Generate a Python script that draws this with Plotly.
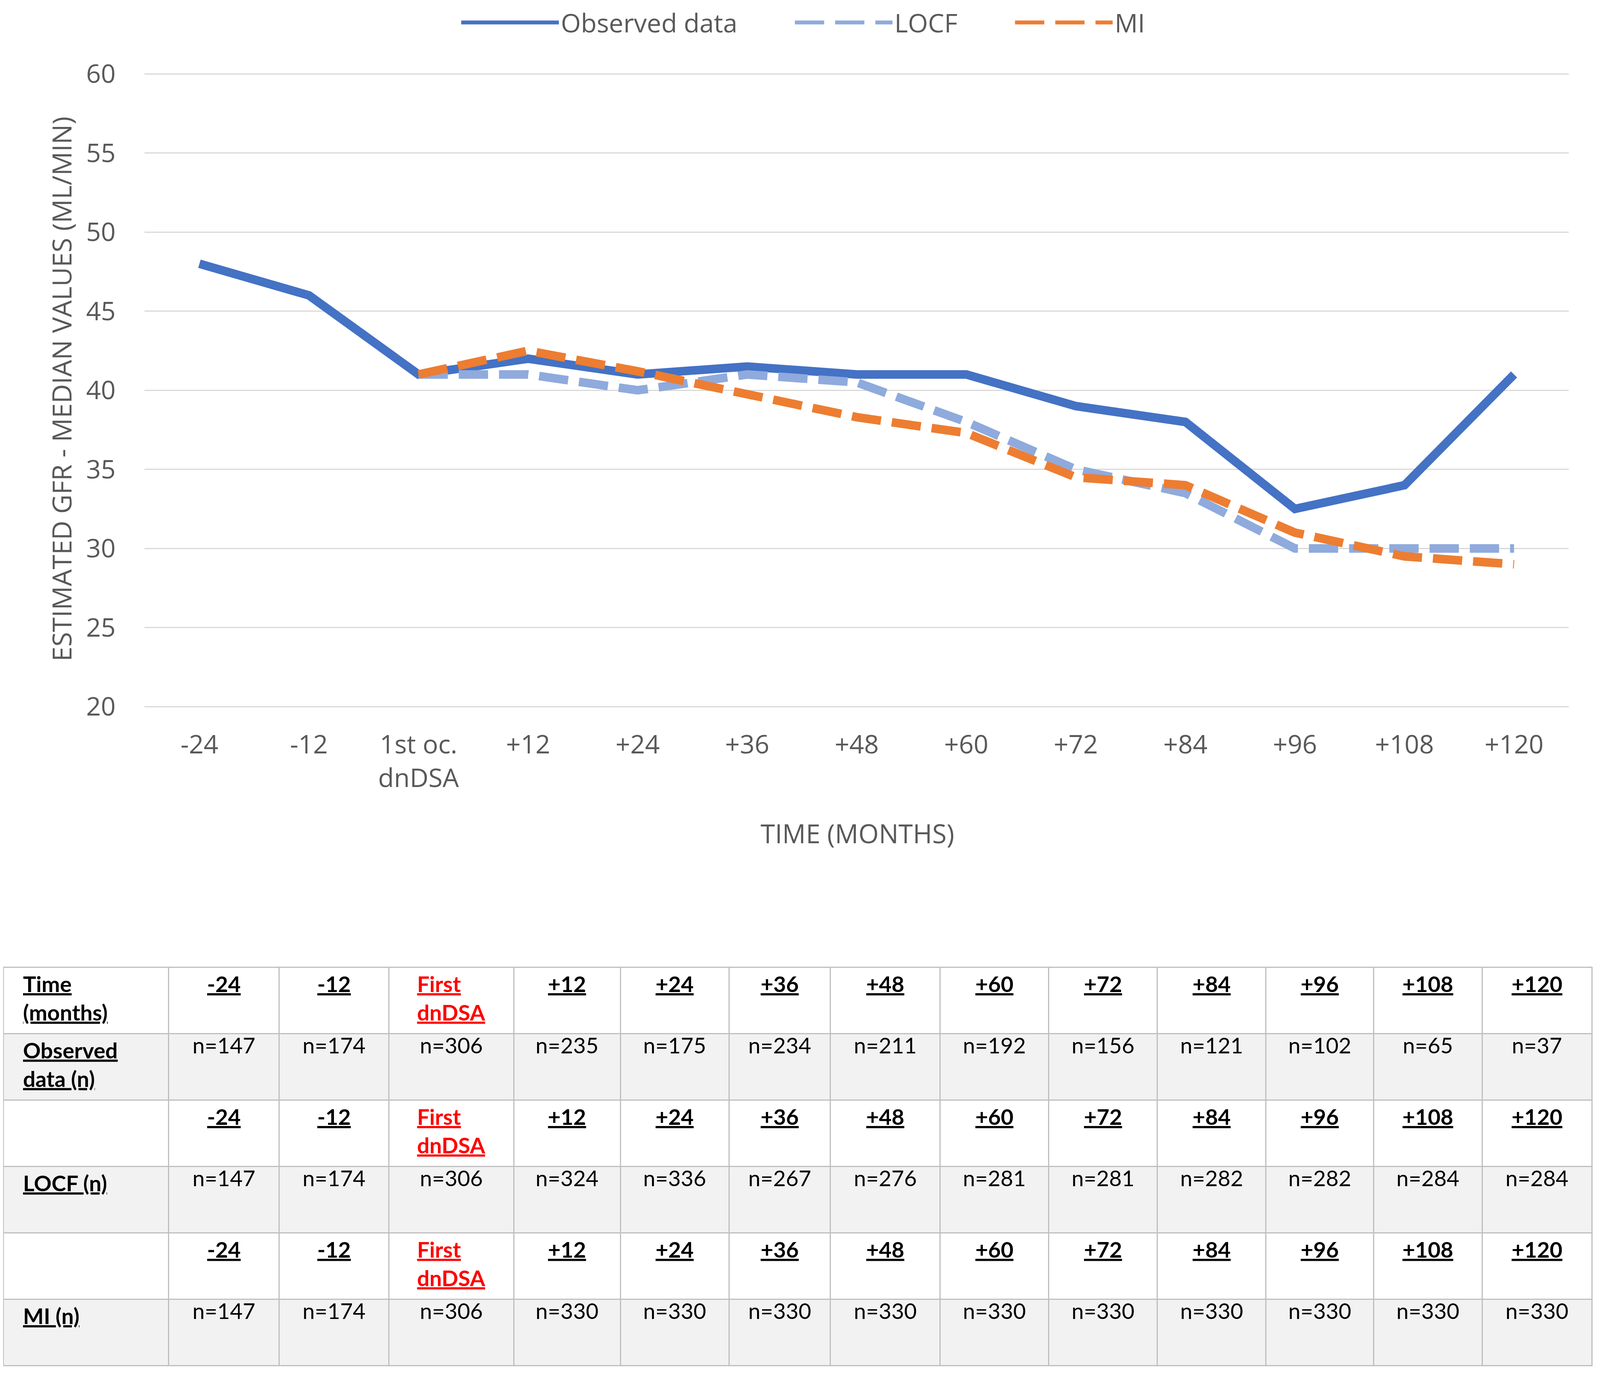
import plotly.graph_objects as go

# time points on the x axis
categories = ['-24', '-12', '1st oc.<br>dnDSA', '+12', '+24', '+36', '+48',
              '+60', '+72', '+84', '+96', '+108', '+120']

# median eGFR
observed = [48, 46, 41, 42, 41, 41.5, 41, 41, 39, 38, 32.5, 34, 41]
locf = [41, 41, 40, 41, 40.5, 38, 35, 33.5, 30, 30, 30]
mi = [41, 42.5, 41.2, 39.7, 38.3, 37.3, 34.5, 34, 31, 29.5, 29]

# table contents
table_times = ['-24', '-12', 'First dnDSA', '+12', '+24', '+36', '+48',
               '+60', '+72', '+84', '+96', '+108', '+120']
n_observed = [147, 174, 306, 235, 175, 234, 211, 192, 156, 121, 102, 65, 37]
n_locf = [147, 174, 306, 324, 336, 267, 276, 281, 281, 282, 282, 284, 284]
n_mi = [147, 174, 306, 330, 330, 330, 330, 330, 330, 330, 330, 330, 330]

TXT = '#595959'
GRID = '#D9D9D9'
pad = '\u00a0\u00a0\u00a0'
gap = '\u00a0' * 8


def bu(s, indent=''):
    return '<br>'.join(indent + '<b><u>%s</u></b>' % part for part in s.split('<br>'))


def time_label(t):
    if t == 'First dnDSA':
        return "<span style='color:#FF0000'>" + bu('First<br>dnDSA') + '</span>'
    return bu(t)


fig = go.Figure()

fig.add_trace(go.Scatter(x=categories, y=observed, mode='lines', name='Observed data' + gap,
                         line=dict(color='#4472C4', width=22)))
fig.add_trace(go.Scatter(x=categories[2:], y=locf, mode='lines', name='LOCF' + gap,
                         line=dict(color='#8FAADC', width=22, dash='75px,28px')))
fig.add_trace(go.Scatter(x=categories[2:], y=mi, mode='lines', name='MI',
                         line=dict(color='#ED7D31', width=22, dash='75px,28px')))

# table: header row + 5 body rows
header_vals = [bu('Time<br>(months)', pad)] + [time_label(t) for t in table_times]
row_labels = [bu('Observed<br>data (n)', pad), '', bu('LOCF (n)', pad), '', bu('MI (n)', pad)]
cols = [row_labels]
for i, t in enumerate(table_times):
    cols.append(['n=%d' % n_observed[i], time_label(t), 'n=%d' % n_locf[i],
                 time_label(t), 'n=%d' % n_mi[i]])
row_fill = ['#F2F2F2', 'white', '#F2F2F2', 'white', '#F2F2F2']
col_w = [163, 109, 108, 123, 105, 107, 100, 108, 107, 107, 107, 106, 107, 108]

fig.add_trace(go.Table(
    domain=dict(x=[0, 0.997], y=[0.003, 0.296]),
    columnwidth=col_w,
    header=dict(values=header_vals, height=170, fill_color='white',
                line=dict(color='#BFBFBF', width=3),
                align=['left'] + ['center'] * 13,
                font=dict(family='Lato', size=56, color='black')),
    cells=dict(values=cols, height=170, fill_color=[row_fill] * 14,
               line=dict(color='#BFBFBF', width=3),
               align=['left'] + ['center'] * 13,
               font=dict(family='Lato', size=56, color='black')),
))

fig.update_layout(
    paper_bgcolor='white', plot_bgcolor='white',
    margin=dict(l=0, r=0, t=0, b=0, autoexpand=False),
    font=dict(family='Open Sans', size=66, color=TXT),
    showlegend=True,
    legend=dict(orientation='h', x=0.502, xanchor='center', y=1.0, yanchor='top',
                font=dict(size=66, color=TXT), itemwidth=250, tracegroupgap=0,
                bgcolor='rgba(0,0,0,0)'),
    xaxis=dict(domain=[0.0888, 0.9824], type='category', range=[-0.5, 12.5],
               showgrid=False, zeroline=False, showline=False,
               ticks='outside', ticklen=38, tickcolor='rgba(0,0,0,0)',
               tickfont=dict(size=66, color=TXT)),
    yaxis=dict(domain=[0.4858, 0.9489], range=[19.95, 60.05], dtick=5,
               tick0=20, showgrid=True, gridcolor=GRID, gridwidth=3, zeroline=False,
               showline=False, ticks='outside', ticklen=60,
               tickcolor='rgba(0,0,0,0)', tickfont=dict(size=66, color=TXT)),
    annotations=[
        dict(text='TIME (MONTHS)', x=0.536, y=0.394, xref='paper', yref='paper',
             xanchor='center', yanchor='middle', showarrow=False,
             font=dict(size=67, color=TXT)),
        dict(text='ESTIMATED GFR - MEDIAN VALUES (ML/MIN)', x=0.0363, y=0.7182,
             xref='paper', yref='paper', xanchor='center', yanchor='middle',
             textangle=-90, showarrow=False, font=dict(size=68, color=TXT)),
    ],
)

fig.write_html('out.html', default_width='calc(100vw - 16px)',
               default_height='calc(100vh - 16px)')
